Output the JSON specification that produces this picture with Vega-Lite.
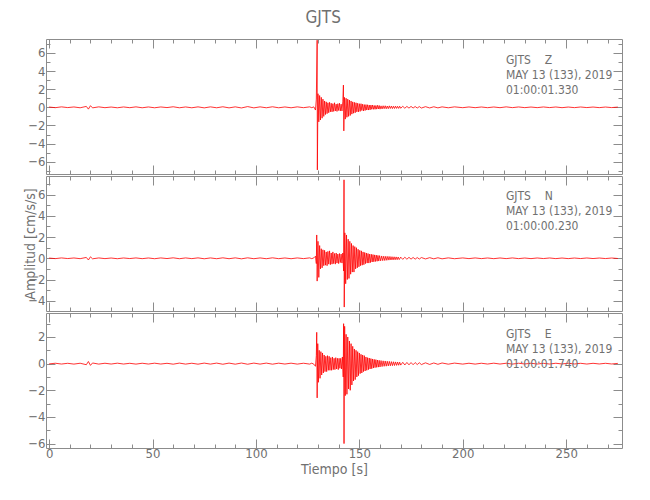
{
"$schema":"https://vega.github.io/schema/vega-lite/v6.json",
"padding":{"left":23,"top":8,"right":5,"bottom":5},
"background":"white",
"title":{"text":"GJTS","anchor":"middle","fontSize":17,"fontWeight":"normal","color":"#707070","font":"DejaVu Sans Condensed, sans-serif","offset":10},
"spacing":0,
"datasets":{
"z":[{"t":0,"v":0.03},{"t":3,"v":-0.04},{"t":6,"v":0.05},{"t":9,"v":-0.03},{"t":12,"v":0.04},{"t":15,"v":-0.05},{"t":18,"v":0.1},{"t":19,"v":-0.2},{"t":20,"v":0.18},{"t":21,"v":-0.06},{"t":24,"v":0.05},{"t":27,"v":-0.04},{"t":30,"v":0.03},{"t":33,"v":-0.05},{"t":36,"v":0.04},{"t":39,"v":-0.04},{"t":42,"v":0.05},{"t":45,"v":-0.05},{"t":48,"v":0.04},{"t":51,"v":-0.05},{"t":54,"v":0.04},{"t":57,"v":-0.03},{"t":60,"v":0.06},{"t":63,"v":-0.05},{"t":66,"v":0.04},{"t":69,"v":-0.05},{"t":72,"v":0.05},{"t":75,"v":-0.06},{"t":78,"v":0.05},{"t":81,"v":-0.05},{"t":84,"v":0.06},{"t":87,"v":-0.06},{"t":90,"v":0.05},{"t":93,"v":-0.07},{"t":96,"v":0.08},{"t":99,"v":-0.06},{"t":102,"v":0.05},{"t":105,"v":-0.05},{"t":108,"v":0.06},{"t":111,"v":-0.05},{"t":114,"v":0.04},{"t":117,"v":-0.05},{"t":120,"v":0.05},{"t":123,"v":-0.04},{"t":126,"v":0.05},{"t":127,"v":-0.04},{"t":128,"v":0.05},
{"t":128.8,"v":-0.3},{"t":129.2,"v":0.9},{"t":129.6,"v":7.4},{"t":129.7,"v":-6.9},{"t":130.0,"v":1.5},{"t":130.4,"v":-1.6},{"t":130.8,"v":1.3},{"t":131.2,"v":-1.4},{"t":131.6,"v":1.1},{"t":132.0,"v":-1.2},{"t":132.4,"v":0.9},{"t":132.8,"v":-1.0},{"t":133.2,"v":0.7},{"t":133.6,"v":-0.8},{"t":134.0,"v":0.6},{"t":134.4,"v":-0.7},{"t":134.8,"v":0.5},{"t":135.2,"v":-0.6},{"t":135.6,"v":0.55},{"t":136.0,"v":-0.5},{"t":136.4,"v":0.45},{"t":136.8,"v":-0.5},{"t":137.2,"v":0.4},{"t":137.6,"v":-0.45},{"t":138.0,"v":0.5},{"t":138.4,"v":-0.4},{"t":138.8,"v":0.35},{"t":139.2,"v":-0.45},{"t":139.6,"v":0.4},{"t":140.0,"v":-0.35},{"t":140.4,"v":0.45},{"t":140.8,"v":-0.4},{"t":141.2,"v":0.35},{"t":141.6,"v":-0.4},{"t":142.0,"v":0.6},{"t":142.3,"v":2.45},{"t":142.5,"v":-2.6},{"t":142.8,"v":1.1},{"t":143.2,"v":-1.3},{"t":143.6,"v":1.0},{"t":144.0,"v":-1.1},{"t":144.4,"v":0.9},{"t":144.8,"v":-1.0},{"t":145.2,"v":0.8},{"t":145.6,"v":-0.9},{"t":146.0,"v":0.7},{"t":146.4,"v":-0.75},{"t":146.8,"v":0.6},{"t":147.2,"v":-0.65},{"t":147.6,"v":0.55},{"t":148.0,"v":-0.6},{"t":148.4,"v":0.5},{"t":148.8,"v":-0.5},{"t":149.2,"v":0.45},{"t":149.6,"v":-0.5},{"t":150.0,"v":0.4},{"t":150.4,"v":-0.45},{"t":150.8,"v":0.4},{"t":151.2,"v":-0.35},{"t":151.6,"v":0.35},{"t":152.0,"v":-0.4},{"t":152.4,"v":0.3},{"t":152.8,"v":-0.35},{"t":153.2,"v":0.3},{"t":153.6,"v":-0.3},{"t":154.0,"v":0.28},{"t":154.4,"v":-0.3},{"t":154.8,"v":0.25},{"t":155.2,"v":-0.28},{"t":155.6,"v":0.25},{"t":156.0,"v":-0.22},{"t":156.4,"v":0.25},{"t":156.8,"v":-0.22},{"t":157.2,"v":0.2},{"t":157.6,"v":-0.22},{"t":158.0,"v":0.2},{"t":158.4,"v":-0.2},{"t":158.8,"v":0.22},{"t":159.2,"v":-0.18},{"t":159.6,"v":0.2},{"t":160,"v":-0.2},
{"t":160.5,"v":0.16},{"t":161,"v":-0.18},{"t":161.5,"v":0.17},{"t":162,"v":-0.15},{"t":162.5,"v":0.17},{"t":163,"v":-0.16},{"t":163.5,"v":0.14},{"t":164,"v":-0.15},{"t":164.5,"v":0.16},{"t":165,"v":-0.13},{"t":165.5,"v":0.14},{"t":166,"v":-0.14},{"t":166.5,"v":0.12},{"t":167,"v":-0.13},{"t":167.5,"v":0.13},{"t":168,"v":-0.12},{"t":168.5,"v":0.11},{"t":169,"v":-0.12},{"t":169.5,"v":0.12},{"t":170,"v":-0.1},{"t":171,"v":0.11},{"t":172,"v":-0.1},{"t":173,"v":0.1},{"t":174,"v":-0.09},{"t":175,"v":0.1},{"t":176,"v":-0.08},{"t":177,"v":0.09},{"t":178,"v":-0.08},{"t":179,"v":0.08},{"t":180,"v":-0.08},{"t":182,"v":0.07},{"t":184,"v":-0.07},{"t":186,"v":0.06},{"t":188,"v":-0.06},{"t":190,"v":0.05},{"t":193,"v":-0.05},{"t":196,"v":0.05},{"t":200,"v":-0.04},
{"t":203,"v":0.04},{"t":206,"v":-0.04},{"t":209,"v":0.035},{"t":212,"v":-0.04},{"t":215,"v":0.035},{"t":218,"v":-0.04},{"t":221,"v":0.05},{"t":224,"v":-0.035},{"t":227,"v":0.04},{"t":230,"v":-0.035},{"t":233,"v":0.03},{"t":236,"v":-0.035},{"t":239,"v":0.04},{"t":242,"v":-0.03},{"t":245,"v":0.035},{"t":248,"v":-0.04},{"t":251,"v":0.03},{"t":254,"v":-0.035},{"t":257,"v":0.035},{"t":260,"v":-0.03},{"t":263,"v":0.03},{"t":266,"v":-0.035},{"t":269,"v":0.03},{"t":272,"v":-0.03},{"t":275,"v":0.025}],
"n":[{"t":0,"v":0.02},{"t":3,"v":-0.03},{"t":6,"v":0.035},{"t":9,"v":-0.025},{"t":12,"v":0.03},{"t":15,"v":-0.035},{"t":18,"v":0.08},{"t":19,"v":-0.16},{"t":20,"v":0.14},{"t":21,"v":-0.05},{"t":24,"v":0.035},{"t":27,"v":-0.03},{"t":30,"v":0.025},{"t":33,"v":-0.04},{"t":36,"v":0.03},{"t":39,"v":-0.025},{"t":42,"v":0.035},{"t":45,"v":-0.035},{"t":48,"v":0.03},{"t":51,"v":-0.04},{"t":54,"v":0.035},{"t":57,"v":-0.025},{"t":60,"v":0.045},{"t":63,"v":-0.04},{"t":66,"v":0.035},{"t":69,"v":-0.03},{"t":72,"v":0.04},{"t":75,"v":-0.045},{"t":78,"v":0.035},{"t":81,"v":-0.04},{"t":84,"v":0.045},{"t":87,"v":-0.04},{"t":90,"v":0.04},{"t":93,"v":-0.05},{"t":96,"v":0.045},{"t":99,"v":-0.04},{"t":102,"v":0.035},{"t":105,"v":-0.04},{"t":108,"v":0.045},{"t":111,"v":-0.035},{"t":114,"v":0.03},{"t":117,"v":-0.04},{"t":120,"v":0.035},{"t":123,"v":-0.03},{"t":126,"v":0.04},{"t":127,"v":-0.035},{"t":128,"v":0.04},
{"t":128.8,"v":0.2},{"t":129.2,"v":-0.5},{"t":129.4,"v":2.2},{"t":129.6,"v":-2.15},{"t":130.0,"v":1.6},{"t":130.4,"v":-1.8},{"t":130.8,"v":1.2},{"t":131.2,"v":-1.0},{"t":131.6,"v":0.9},{"t":132.0,"v":-0.9},{"t":132.4,"v":0.8},{"t":132.8,"v":-0.7},{"t":133.2,"v":0.75},{"t":133.6,"v":-0.65},{"t":134.0,"v":0.6},{"t":134.4,"v":-0.7},{"t":134.8,"v":0.65},{"t":135.2,"v":-0.55},{"t":135.6,"v":0.7},{"t":136.0,"v":-0.6},{"t":136.4,"v":0.5},{"t":136.8,"v":-0.55},{"t":137.2,"v":0.6},{"t":137.6,"v":-0.5},{"t":138.0,"v":0.45},{"t":138.4,"v":-0.55},{"t":138.8,"v":0.5},{"t":139.2,"v":-0.45},{"t":139.6,"v":0.4},{"t":140.0,"v":-0.5},{"t":140.4,"v":0.45},{"t":140.8,"v":-0.4},{"t":141.2,"v":0.4},{"t":141.6,"v":-0.45},{"t":142.0,"v":0.5},{"t":142.4,"v":-1.2},{"t":142.6,"v":7.4},{"t":142.7,"v":-4.6},{"t":143.0,"v":2.4},{"t":143.4,"v":-2.4},{"t":143.8,"v":2.2},{"t":144.2,"v":-2.0},{"t":144.6,"v":1.8},{"t":145.0,"v":-1.9},{"t":145.4,"v":1.6},{"t":145.8,"v":-1.5},{"t":146.2,"v":1.4},{"t":146.6,"v":-1.3},{"t":147.0,"v":1.2},{"t":147.4,"v":-1.3},{"t":147.8,"v":1.1},{"t":148.2,"v":-1.0},{"t":148.6,"v":1.0},{"t":149.0,"v":-0.9},{"t":149.4,"v":0.85},{"t":149.8,"v":-0.8},{"t":150.2,"v":0.75},{"t":150.6,"v":-0.7},{"t":151.0,"v":0.7},{"t":151.4,"v":-0.65},{"t":151.8,"v":0.6},{"t":152.2,"v":-0.6},{"t":152.6,"v":0.55},{"t":153.0,"v":-0.5},{"t":153.4,"v":0.5},{"t":153.8,"v":-0.45},{"t":154.2,"v":0.45},{"t":154.6,"v":-0.45},{"t":155.0,"v":0.4},{"t":155.4,"v":-0.4},{"t":155.8,"v":0.38},{"t":156.2,"v":-0.35},{"t":156.6,"v":0.35},{"t":157.0,"v":-0.33},{"t":157.4,"v":0.32},{"t":157.8,"v":-0.3},{"t":158.2,"v":0.3},{"t":158.6,"v":-0.28},{"t":159.0,"v":0.27},{"t":159.4,"v":-0.26},{"t":159.8,"v":0.25},
{"t":160.3,"v":-0.24},{"t":160.8,"v":0.22},{"t":161.3,"v":-0.22},{"t":161.8,"v":0.2},{"t":162.3,"v":-0.21},{"t":162.8,"v":0.19},{"t":163.3,"v":-0.19},{"t":163.8,"v":0.18},{"t":164.3,"v":-0.17},{"t":164.8,"v":0.17},{"t":165.3,"v":-0.16},{"t":165.8,"v":0.15},{"t":166.3,"v":-0.15},{"t":166.8,"v":0.14},{"t":167.3,"v":-0.14},{"t":167.8,"v":0.13},{"t":168.3,"v":-0.13},{"t":168.8,"v":0.12},{"t":169.3,"v":-0.12},{"t":170,"v":0.11},{"t":171,"v":-0.1},{"t":172,"v":0.1},{"t":173,"v":-0.09},{"t":174,"v":0.09},{"t":175,"v":-0.08},{"t":176,"v":0.08},{"t":177,"v":-0.08},{"t":178,"v":0.07},{"t":179,"v":-0.07},{"t":180,"v":0.07},{"t":182,"v":-0.06},{"t":184,"v":0.06},{"t":186,"v":-0.05},{"t":188,"v":0.05},{"t":190,"v":-0.05},{"t":193,"v":0.04},{"t":196,"v":-0.04},{"t":200,"v":0.035},
{"t":203,"v":-0.03},{"t":206,"v":0.035},{"t":209,"v":-0.03},{"t":212,"v":0.03},{"t":215,"v":-0.035},{"t":218,"v":0.03},{"t":221,"v":-0.03},{"t":224,"v":0.035},{"t":227,"v":-0.03},{"t":230,"v":0.025},{"t":233,"v":-0.03},{"t":236,"v":0.03},{"t":239,"v":-0.025},{"t":242,"v":0.03},{"t":245,"v":-0.03},{"t":248,"v":0.025},{"t":251,"v":-0.03},{"t":254,"v":0.025},{"t":257,"v":-0.025},{"t":260,"v":0.03},{"t":263,"v":-0.025},{"t":266,"v":0.025},{"t":269,"v":-0.025},{"t":272,"v":0.025},{"t":275,"v":-0.02}],
"e":[{"t":0,"v":-0.02},{"t":3,"v":0.03},{"t":6,"v":-0.03},{"t":9,"v":0.025},{"t":12,"v":-0.035},{"t":15,"v":0.03},{"t":18,"v":-0.08},{"t":19,"v":0.16},{"t":20,"v":-0.13},{"t":21,"v":0.05},{"t":24,"v":-0.035},{"t":27,"v":0.03},{"t":30,"v":-0.03},{"t":33,"v":0.035},{"t":36,"v":-0.03},{"t":39,"v":0.025},{"t":42,"v":-0.035},{"t":45,"v":0.03},{"t":48,"v":-0.03},{"t":51,"v":0.035},{"t":54,"v":-0.03},{"t":57,"v":0.025},{"t":60,"v":-0.04},{"t":63,"v":0.04},{"t":66,"v":-0.035},{"t":69,"v":0.03},{"t":72,"v":-0.04},{"t":75,"v":0.04},{"t":78,"v":-0.035},{"t":81,"v":0.04},{"t":84,"v":-0.045},{"t":87,"v":0.04},{"t":90,"v":-0.04},{"t":93,"v":0.045},{"t":96,"v":-0.045},{"t":99,"v":0.04},{"t":102,"v":-0.035},{"t":105,"v":0.04},{"t":108,"v":-0.04},{"t":111,"v":0.035},{"t":114,"v":-0.03},{"t":117,"v":0.035},{"t":120,"v":-0.035},{"t":123,"v":0.03},{"t":126,"v":-0.035},{"t":127,"v":0.035},{"t":128,"v":-0.04},
{"t":128.8,"v":-0.2},{"t":129.2,"v":0.6},{"t":129.4,"v":2.35},{"t":129.6,"v":-2.57},{"t":129.9,"v":1.5},{"t":130.2,"v":-1.4},{"t":130.6,"v":1.0},{"t":131.0,"v":-1.1},{"t":131.4,"v":0.9},{"t":131.8,"v":-0.85},{"t":132.2,"v":0.8},{"t":132.6,"v":-0.7},{"t":133.0,"v":0.65},{"t":133.4,"v":-0.6},{"t":133.8,"v":0.55},{"t":134.2,"v":-0.6},{"t":134.6,"v":0.6},{"t":135.0,"v":-0.5},{"t":135.4,"v":0.55},{"t":135.8,"v":-0.5},{"t":136.2,"v":0.45},{"t":136.6,"v":-0.5},{"t":137.0,"v":0.5},{"t":137.4,"v":-0.45},{"t":137.8,"v":0.4},{"t":138.2,"v":-0.45},{"t":138.6,"v":0.45},{"t":139.0,"v":-0.4},{"t":139.4,"v":0.4},{"t":139.8,"v":-0.45},{"t":140.2,"v":0.4},{"t":140.6,"v":-0.35},{"t":141.0,"v":0.4},{"t":141.4,"v":-0.4},{"t":141.8,"v":0.5},{"t":142.2,"v":-1.0},{"t":142.4,"v":3.0},{"t":142.6,"v":-6.0},{"t":142.9,"v":2.8},{"t":143.2,"v":-2.4},{"t":143.6,"v":2.2},{"t":144.0,"v":-2.3},{"t":144.4,"v":2.0},{"t":144.8,"v":-1.9},{"t":145.2,"v":1.7},{"t":145.6,"v":-2.0},{"t":146.0,"v":1.5},{"t":146.4,"v":-1.6},{"t":146.8,"v":1.3},{"t":147.2,"v":-1.3},{"t":147.6,"v":1.1},{"t":148.0,"v":-1.2},{"t":148.4,"v":1.0},{"t":148.8,"v":-1.0},{"t":149.2,"v":0.9},{"t":149.6,"v":-0.9},{"t":150.0,"v":0.8},{"t":150.4,"v":-0.75},{"t":150.8,"v":0.7},{"t":151.2,"v":-0.7},{"t":151.6,"v":0.65},{"t":152.0,"v":-0.6},{"t":152.4,"v":0.6},{"t":152.8,"v":-0.55},{"t":153.2,"v":0.5},{"t":153.6,"v":-0.5},{"t":154.0,"v":0.45},{"t":154.4,"v":-0.45},{"t":154.8,"v":0.42},{"t":155.2,"v":-0.4},{"t":155.6,"v":0.38},{"t":156.0,"v":-0.38},{"t":156.4,"v":0.35},{"t":156.8,"v":-0.33},{"t":157.2,"v":0.32},{"t":157.6,"v":-0.3},{"t":158.0,"v":0.3},{"t":158.4,"v":-0.28},{"t":158.8,"v":0.27},{"t":159.2,"v":-0.26},{"t":159.6,"v":0.25},{"t":160.0,"v":-0.25},
{"t":160.5,"v":0.23},{"t":161,"v":-0.22},{"t":161.5,"v":0.21},{"t":162,"v":-0.2},{"t":162.5,"v":0.2},{"t":163,"v":-0.19},{"t":163.5,"v":0.18},{"t":164,"v":-0.17},{"t":164.5,"v":0.17},{"t":165,"v":-0.16},{"t":165.5,"v":0.15},{"t":166,"v":-0.15},{"t":166.5,"v":0.14},{"t":167,"v":-0.14},{"t":167.5,"v":0.13},{"t":168,"v":-0.13},{"t":168.5,"v":0.12},{"t":169,"v":-0.12},{"t":169.5,"v":0.11},{"t":170,"v":-0.11},{"t":171,"v":0.1},{"t":172,"v":-0.1},{"t":173,"v":0.09},{"t":174,"v":-0.09},{"t":175,"v":0.08},{"t":176,"v":-0.08},{"t":177,"v":0.08},{"t":178,"v":-0.07},{"t":179,"v":0.07},{"t":180,"v":-0.07},{"t":182,"v":0.06},{"t":184,"v":-0.06},{"t":186,"v":0.05},{"t":188,"v":-0.05},{"t":190,"v":0.05},{"t":193,"v":-0.04},{"t":196,"v":0.04},{"t":200,"v":-0.035},
{"t":203,"v":0.03},{"t":206,"v":-0.035},{"t":209,"v":0.03},{"t":212,"v":-0.03},{"t":215,"v":0.035},{"t":218,"v":-0.03},{"t":221,"v":0.03},{"t":224,"v":-0.035},{"t":227,"v":0.03},{"t":230,"v":-0.025},{"t":233,"v":0.03},{"t":236,"v":-0.03},{"t":239,"v":0.025},{"t":242,"v":-0.03},{"t":245,"v":0.03},{"t":248,"v":-0.025},{"t":251,"v":0.03},{"t":254,"v":-0.025},{"t":257,"v":0.025},{"t":260,"v":-0.03},{"t":263,"v":0.025},{"t":266,"v":-0.025},{"t":269,"v":0.025},{"t":272,"v":-0.025},{"t":275,"v":0.02}]
},
"vconcat":[
{"width":576,"height":135,"data":{"name":"z"},
 "layer":[
  {"mark":{"type":"line","color":"#ff0000","strokeWidth":0.8,"clip":true},
   "encoding":{
    "x":{"field":"t","type":"quantitative","scale":{"domain":[-1.5,277],"nice":false,"zero":false},"axis":{"orient":"bottom","values":[0,50,100,150,200,250],"tickSize":-9,"labels":false,"title":null}},
    "y":{"field":"v","type":"quantitative","scale":{"domain":[-7.35,7.53],"nice":false,"zero":false},"axis":{"orient":"left","values":[-6,-4,-2,0,2,4,6],"tickSize":-9,"labelPadding":10,"title":null}}}},
  {"mark":{"type":"point","opacity":0},
   "encoding":{
    "x":{"field":"t","type":"quantitative","scale":{"domain":[-1.5,277],"nice":false,"zero":false},"axis":{"orient":"top","values":[0,50,100,150,200,250],"tickSize":-9,"labels":false,"title":null}},
    "y":{"field":"v","type":"quantitative","scale":{"domain":[-7.35,7.53],"nice":false,"zero":false},"axis":{"orient":"right","values":[-6,-4,-2,0,2,4,6],"tickSize":-9,"labels":false,"title":null}}}},
  {"mark":{"type":"point","opacity":0},
   "encoding":{
    "x":{"field":"t","type":"quantitative","scale":{"domain":[-1.5,277],"nice":false,"zero":false},"axis":{"orient":"bottom","values":[10,20,30,40,60,70,80,90,110,120,130,140,160,170,180,190,210,220,230,240,260,270],"tickSize":-4,"labels":false,"title":null}},
    "y":{"field":"v","type":"quantitative","scale":{"domain":[-7.35,7.53],"nice":false,"zero":false},"axis":{"orient":"left","values":[-7,-5,-3,-1,1,3,5,7],"tickSize":-4,"labels":false,"title":null}}}},
  {"mark":{"type":"point","opacity":0},
   "encoding":{
    "x":{"field":"t","type":"quantitative","scale":{"domain":[-1.5,277],"nice":false,"zero":false},"axis":{"orient":"top","values":[10,20,30,40,60,70,80,90,110,120,130,140,160,170,180,190,210,220,230,240,260,270],"tickSize":-4,"labels":false,"title":null}},
    "y":{"field":"v","type":"quantitative","scale":{"domain":[-7.35,7.53],"nice":false,"zero":false},"axis":{"orient":"right","values":[-7,-5,-3,-1,1,3,5,7],"tickSize":-4,"labels":false,"title":null}}}},
  {"data":{"values":[{}]},
   "mark":{"type":"text","align":"left","baseline":"middle","lineHeight":15,"fontSize":12,"color":"#707070","font":"DejaVu Sans Condensed, sans-serif"},
   "encoding":{"x":{"datum":220.9,"type":"quantitative","axis":null},"y":{"datum":5.27,"type":"quantitative","axis":null},"text":{"value":["GJTS\u00a0\u00a0\u00a0\u00a0Z","MAY 13 (133), 2019","01:00:01.330"]}}}
 ],
 "resolve":{"axis":{"x":"independent","y":"independent"}}},
{"width":576,"height":135,"data":{"name":"n"},
 "layer":[
  {"mark":{"type":"line","color":"#ff0000","strokeWidth":0.8,"clip":true},
   "encoding":{
    "x":{"field":"t","type":"quantitative","scale":{"domain":[-1.5,277],"nice":false,"zero":false},"axis":{"orient":"bottom","values":[0,50,100,150,200,250],"tickSize":-9,"labels":false,"title":null}},
    "y":{"field":"v","type":"quantitative","scale":{"domain":[-4.97,7.76],"nice":false,"zero":false},"axis":{"orient":"left","values":[-4,-2,0,2,4,6],"tickSize":-9,"labelPadding":10,"title":"Amplitud [cm/s/s]","titlePadding":-10}}}},
  {"mark":{"type":"point","opacity":0},
   "encoding":{
    "x":{"field":"t","type":"quantitative","scale":{"domain":[-1.5,277],"nice":false,"zero":false},"axis":{"orient":"top","values":[0,50,100,150,200,250],"tickSize":-9,"labels":false,"title":null}},
    "y":{"field":"v","type":"quantitative","scale":{"domain":[-4.97,7.76],"nice":false,"zero":false},"axis":{"orient":"right","values":[-4,-2,0,2,4,6],"tickSize":-9,"labels":false,"title":null}}}},
  {"mark":{"type":"point","opacity":0},
   "encoding":{
    "x":{"field":"t","type":"quantitative","scale":{"domain":[-1.5,277],"nice":false,"zero":false},"axis":{"orient":"bottom","values":[10,20,30,40,60,70,80,90,110,120,130,140,160,170,180,190,210,220,230,240,260,270],"tickSize":-4,"labels":false,"title":null}},
    "y":{"field":"v","type":"quantitative","scale":{"domain":[-4.97,7.76],"nice":false,"zero":false},"axis":{"orient":"left","values":[-3,-1,1,3,5,7],"tickSize":-4,"labels":false,"title":null}}}},
  {"mark":{"type":"point","opacity":0},
   "encoding":{
    "x":{"field":"t","type":"quantitative","scale":{"domain":[-1.5,277],"nice":false,"zero":false},"axis":{"orient":"top","values":[10,20,30,40,60,70,80,90,110,120,130,140,160,170,180,190,210,220,230,240,260,270],"tickSize":-4,"labels":false,"title":null}},
    "y":{"field":"v","type":"quantitative","scale":{"domain":[-4.97,7.76],"nice":false,"zero":false},"axis":{"orient":"right","values":[-3,-1,1,3,5,7],"tickSize":-4,"labels":false,"title":null}}}},
  {"data":{"values":[{}]},
   "mark":{"type":"text","align":"left","baseline":"middle","lineHeight":15,"fontSize":12,"color":"#707070","font":"DejaVu Sans Condensed, sans-serif"},
   "encoding":{"x":{"datum":220.9,"type":"quantitative","axis":null},"y":{"datum":5.87,"type":"quantitative","axis":null},"text":{"value":["GJTS\u00a0\u00a0\u00a0\u00a0N","MAY 13 (133), 2019","01:00:00.230"]}}}
 ],
 "resolve":{"axis":{"x":"independent","y":"independent"}}},
{"width":576,"height":135,"data":{"name":"e"},
 "layer":[
  {"mark":{"type":"line","color":"#ff0000","strokeWidth":0.8,"clip":true},
   "encoding":{
    "x":{"field":"t","type":"quantitative","scale":{"domain":[-1.5,277],"nice":false,"zero":false},"axis":{"orient":"bottom","values":[0,50,100,150,200,250],"tickSize":-9,"labelPadding":8,"labelFlush":false,"title":"Tiempo [s]","titlePadding":2}},
    "y":{"field":"v","type":"quantitative","scale":{"domain":[-6.33,3.8],"nice":false,"zero":false},"axis":{"orient":"left","values":[-6,-4,-2,0,2],"tickSize":-9,"labelPadding":10,"title":null}}}},
  {"mark":{"type":"point","opacity":0},
   "encoding":{
    "x":{"field":"t","type":"quantitative","scale":{"domain":[-1.5,277],"nice":false,"zero":false},"axis":{"orient":"top","values":[0,50,100,150,200,250],"tickSize":-9,"labels":false,"title":null}},
    "y":{"field":"v","type":"quantitative","scale":{"domain":[-6.33,3.8],"nice":false,"zero":false},"axis":{"orient":"right","values":[-6,-4,-2,0,2],"tickSize":-9,"labels":false,"title":null}}}},
  {"mark":{"type":"point","opacity":0},
   "encoding":{
    "x":{"field":"t","type":"quantitative","scale":{"domain":[-1.5,277],"nice":false,"zero":false},"axis":{"orient":"bottom","values":[10,20,30,40,60,70,80,90,110,120,130,140,160,170,180,190,210,220,230,240,260,270],"tickSize":-4,"labels":false,"title":null}},
    "y":{"field":"v","type":"quantitative","scale":{"domain":[-6.33,3.8],"nice":false,"zero":false},"axis":{"orient":"left","values":[-5,-3,-1,1,3],"tickSize":-4,"labels":false,"title":null}}}},
  {"mark":{"type":"point","opacity":0},
   "encoding":{
    "x":{"field":"t","type":"quantitative","scale":{"domain":[-1.5,277],"nice":false,"zero":false},"axis":{"orient":"top","values":[10,20,30,40,60,70,80,90,110,120,130,140,160,170,180,190,210,220,230,240,260,270],"tickSize":-4,"labels":false,"title":null}},
    "y":{"field":"v","type":"quantitative","scale":{"domain":[-6.33,3.8],"nice":false,"zero":false},"axis":{"orient":"right","values":[-5,-3,-1,1,3],"tickSize":-4,"labels":false,"title":null}}}},
  {"data":{"values":[{}]},
   "mark":{"type":"text","align":"left","baseline":"middle","lineHeight":15,"fontSize":12,"color":"#707070","font":"DejaVu Sans Condensed, sans-serif"},
   "encoding":{"x":{"datum":220.9,"type":"quantitative","axis":null},"y":{"datum":2.23,"type":"quantitative","axis":null},"text":{"value":["GJTS\u00a0\u00a0\u00a0\u00a0E","MAY 13 (133), 2019","01:00:01.740"]}}}
 ],
 "resolve":{"axis":{"x":"independent","y":"independent"}}}
],
"config":{
 "view":{"stroke":"#8c8c8c","strokeWidth":1},
 "axis":{"domain":false,"grid":false,"tickColor":"#8c8c8c","tickWidth":1,"labelColor":"#707070","labelFont":"DejaVu Sans Condensed, sans-serif","labelFontSize":13,"labelOverlap":false,"titleFont":"DejaVu Sans Condensed, sans-serif","titleFontSize":14,"titleFontWeight":"normal","titleColor":"#707070"}
}
}
